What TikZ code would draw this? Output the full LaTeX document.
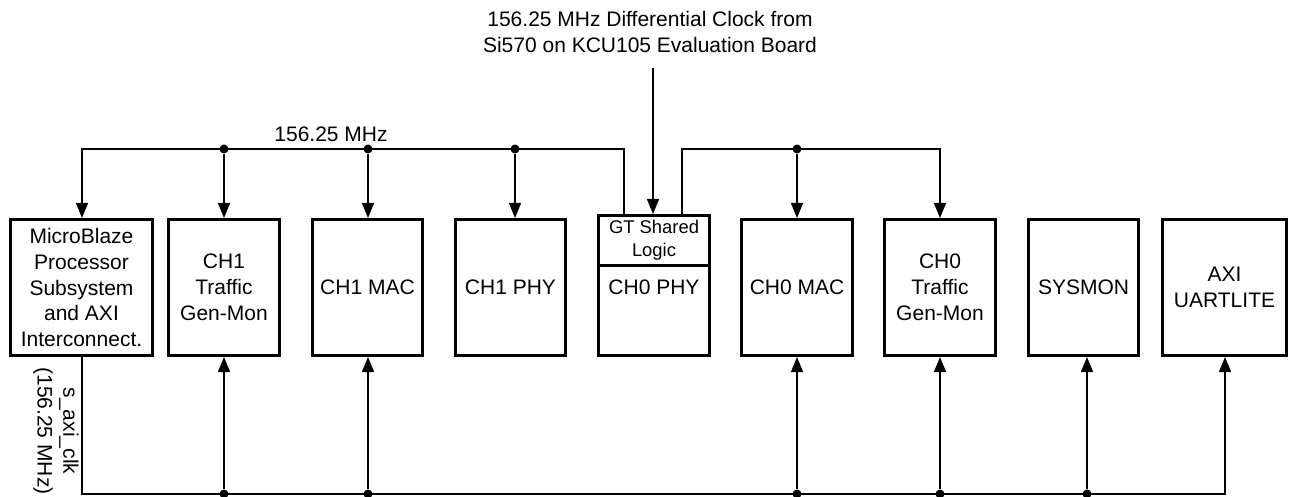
\documentclass[tikz,border=0pt]{standalone}
\usepackage{fontspec}
\setmainfont{Liberation Sans}
\usetikzlibrary{arrows.meta}
\begin{document}
\begin{tikzpicture}[x=0.5pt,y=-0.5pt,
  txt/.style={inner sep=0pt,align=center,font=\fontsize{10.5}{12.9}\selectfont},
  blk/.style={txt,draw,line width=1.5pt,minimum width=55.5pt,minimum height=68pt},
  wire/.style={line width=0.65pt},
  arr/.style={wire,-{Triangle[length=7.5pt,width=6pt]}},
  dot/.style={circle,fill,inner sep=0pt,minimum size=4.5pt}]
\useasboundingbox (0,0) rectangle (1289,497);

% blocks
\node[blk,minimum width=71pt] (mb) at (81.5,287.5) {MicroBlaze\\Processor\\Subsystem\\and AXI\\Interconnect.};
\node[blk] (t1) at (224,287.5) {CH1\\Traffic\\Gen-Mon};
\node[blk,minimum width=55pt] (m1) at (367.5,287.5) {CH1 MAC};
\node[blk,minimum width=55pt] (p1) at (510.5,287.5) {CH1 PHY};
\node[blk,minimum height=24.75pt,font=\fontsize{9.2}{11.5}\selectfont] (gt) at (654,240.25) {GT Shared\\Logic};
\node[blk,minimum height=45.25pt] (p0) at (654,310.25) {};
\node[txt] (p0t) at (654,287.5) {CH0 PHY};
\node[blk] (m0) at (797,287.5) {CH0 MAC};
\node[blk] (t0) at (940,287.5) {CH0\\Traffic\\Gen-Mon};
\node[blk,minimum width=55pt] (sy) at (1083.5,287.5) {SYSMON};
\node[blk,minimum width=62pt] (ua) at (1224.5,287.5) {AXI\\UARTLITE};

% external clock
\node[txt] (cktxt) at (650,32) {156.25 MHz Differential Clock from\\Si570 on KCU105 Evaluation Board};
\coordinate (clk) at (653,68);
\draw[arr] (clk) -- (clk |- gt.north);

% left clock bus
\coordinate (bl) at (82,149);
\coordinate (br) at (624,149);
\draw[arr] (br |- gt.north) -- (br) -- (bl) -- (bl |- mb.north);
\node[txt,anchor=base west] (lbl) at (274,142) {156.25 MHz};
\node[dot] (d1) at (224,149) {};
\node[dot] (d2) at (368,149) {};
\node[dot] (d3) at (515,149) {};
\draw[arr] (d1) -- (d1 |- t1.north);
\draw[arr] (d2) -- (d2 |- m1.north);
\draw[arr] (d3) -- (d3 |- p1.north);

% right clock bus
\coordinate (rl) at (682,149);
\coordinate (rr) at (940,149);
\draw[arr] (rl |- gt.north) -- (rl) -- (rr) -- (rr |- t0.north);
\node[dot] (d4) at (797,149) {};
\draw[arr] (d4) -- (d4 |- m0.north);

% bottom s_axi_clk bus
\coordinate (bb) at (82,494);
\coordinate (be) at (1225,494);
\draw[arr] (mb.south -| bb) -- (bb) -- (be) -- (be |- ua.south);
\node[dot] (e1) at (224,494) {};
\node[dot] (e2) at (368,494) {};
\node[dot] (e3) at (797,494) {};
\node[dot] (e4) at (940,494) {};
\node[dot] (e5) at (1087,494) {};
\draw[arr] (e1) -- (e1 |- t1.south);
\draw[arr] (e2) -- (e2 |- m1.south);
\draw[arr] (e3) -- (e3 |- m0.south);
\draw[arr] (e4) -- (e4 |- t0.south);
\draw[arr] (e5) -- (e5 |- sy.south);
\node[txt,rotate=-90] (axlbl) at (56,431) {s\_axi\_clk\\(156.25 MHz)};
\end{tikzpicture}
\end{document}
